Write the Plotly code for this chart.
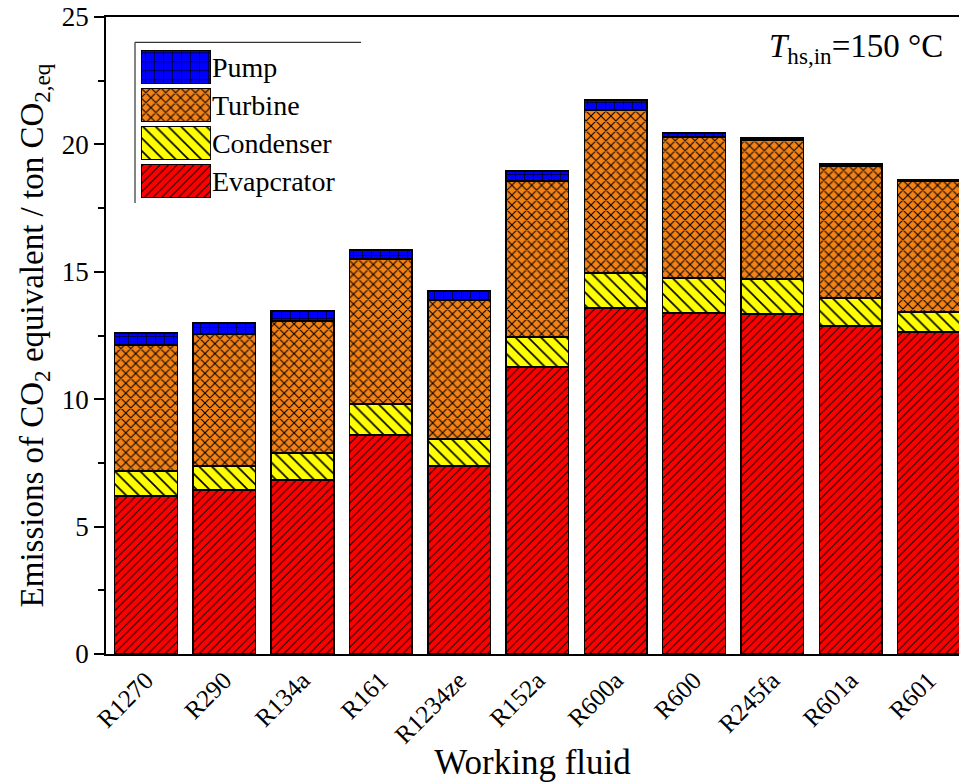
import plotly.graph_objects as go

# Working fluids on the x axis
fluids = ["R1270", "R290", "R134a", "R161", "R1234ze", "R152a",
          "R600a", "R600", "R245fa", "R601a", "R601"]

# CO2-equivalent emissions per component (ton CO2,eq)
evaporator = [6.20, 6.44, 6.83, 8.59, 7.38, 11.26, 13.58, 13.38, 13.34, 12.87, 12.64]
condenser = [0.98, 0.94, 1.06, 1.22, 1.06, 1.18, 1.37, 1.38, 1.38, 1.10, 0.78]
turbine = [4.95, 5.18, 5.18, 5.69, 5.45, 6.12, 6.40, 5.53, 5.45, 5.18, 5.15]
pump = [0.47, 0.43, 0.39, 0.36, 0.36, 0.40, 0.39, 0.16, 0.08, 0.08, 0.03]

# Component names (as printed in the key), colours and hatch styles
components = ["Evapcrator", "Condenser", "Turbine", "Pump"]
series = [evaporator, condenser, turbine, pump]
colors = ["#ff0000", "#ffff00", "#f58214", "#0000ff"]
hatches = [
    dict(shape="/", size=6, solidity=0.16),
    dict(shape="\\", size=9, solidity=0.18),
    dict(shape="x", size=7, solidity=0.28),
    dict(shape="+", size=9, solidity=0.14),
]

FONT = "'Liberation Serif', 'Times New Roman', serif"

fig = go.Figure()

for name, vals, col, hat in zip(components, series, colors, hatches):
    pat = dict(hat, fgcolor="#000000", bgcolor=col, fillmode="replace")
    fig.add_trace(go.Bar(
        x=fluids, y=vals, name=name, width=0.8,
        marker=dict(color=col, pattern=pat, line=dict(color="#000000", width=1.5)),
        showlegend=False,
    ))
    # key swatch drawn on its own small axis pair
    fig.add_trace(go.Bar(
        x=[1], y=[name], orientation="h", width=0.88,
        marker=dict(color=col, pattern=pat, line=dict(color="#000000", width=1.2)),
        xaxis="x2", yaxis="y2", showlegend=False, hoverinfo="skip",
    ))

fig.update_layout(
    width=959, height=782,
    margin=dict(l=106, r=0, t=17, b=128),
    paper_bgcolor="white", plot_bgcolor="white",
    barmode="stack",
    font=dict(family=FONT, color="#000000"),
    xaxis=dict(
        type="category", range=[-0.51, 10.385],
        showline=True, linecolor="#000000", linewidth=1.5, mirror=True,
        ticks="", tickangle=-45, tickfont=dict(size=25, family=FONT),
        title=dict(text="Working fluid", font=dict(size=35, family=FONT), standoff=14),
        showgrid=False, zeroline=False, automargin=False,
    ),
    yaxis=dict(
        range=[0, 25], tick0=0, dtick=5,
        showline=True, linecolor="#000000", linewidth=1.5,
        ticks="outside", ticklen=10, tickwidth=1.5, tickcolor="#000000",
        minor=dict(dtick=2.5, ticks="outside", ticklen=6, tickwidth=1.5, tickcolor="#000000"),
        tickfont=dict(size=27, family=FONT),
        title=dict(text="Emissions of CO<sub>2</sub> equivalent / ton CO<sub>2,eq</sub>",
                   font=dict(size=33, family=FONT), standoff=8),
        showgrid=False, zeroline=False, automargin=False,
    ),
    xaxis2=dict(domain=[0.041, 0.123], range=[0, 1], anchor="y2", visible=False, fixedrange=True),
    yaxis2=dict(
        domain=[0.713, 0.951], anchor="x2", side="right", type="category",
        categoryorder="array", categoryarray=components,
        showline=False, showgrid=False, zeroline=False, ticks="",
        tickfont=dict(size=28, family=FONT), fixedrange=True,
    ),
    annotations=[dict(
        text="<i>T</i><sub>hs,in</sub>=150 °C", xref="paper", yref="paper",
        x=0.9836, y=0.951, xanchor="right", yanchor="middle", showarrow=False,
        font=dict(size=33, family=FONT),
    )],
    shapes=[
        # key frame (top and left edges)
        dict(type="line", xref="paper", yref="paper", x0=0.0340, x1=0.2990, y0=0.9602, y1=0.9602,
             line=dict(color="#333333", width=1.2)),
        dict(type="line", xref="paper", yref="paper", x0=0.0340, x1=0.0340, y0=0.9602, y1=0.7080,
             line=dict(color="#333333", width=1.2)),
    ],
)

fig.write_html("out.html")
